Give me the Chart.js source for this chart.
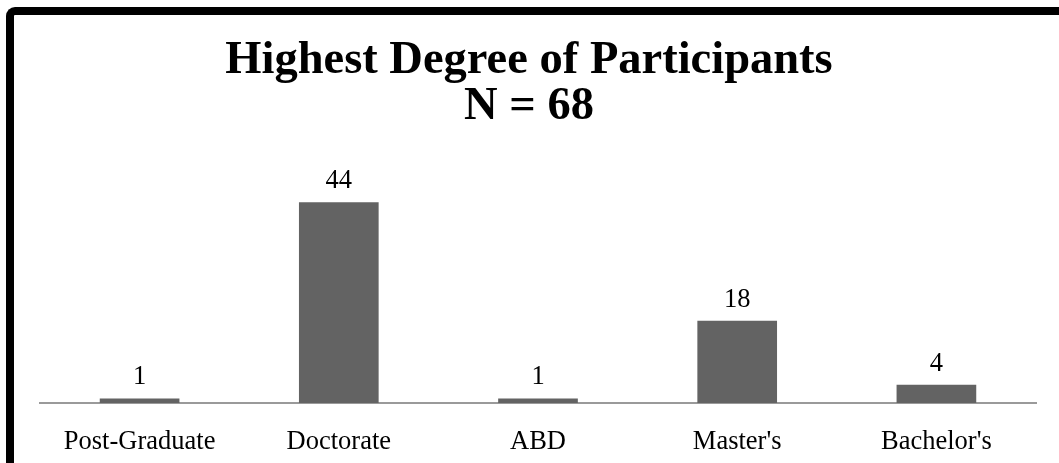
<!DOCTYPE html>
<html>
<head>
<meta charset="utf-8">
<script src="https://cdn.jsdelivr.net/npm/chart.js@4/dist/chart.umd.min.js"></script>
<style>
  html, body { margin: 0; padding: 0; background: #fff; overflow: hidden; }
  #wrap { position: relative; width: 1059px; height: 463px; }
  #frame {
    position: absolute; left: 6px; top: 7px; width: 1100px; height: 500px;
    border-left: 8px solid #000; border-top: 8px solid #000;
    border-top-left-radius: 9px;
  }
  canvas { position: absolute; left: 0; top: 0; }
</style>
</head>
<body>
<div id="wrap">
  <div id="frame"></div>
  <canvas id="chart" width="1059" height="463"></canvas>
</div>
<script>
const titleLines = ['Highest Degree of Participants', 'N = 68'];
const categories = ['Post-Graduate', 'Doctorate', 'ABD', "Master's", "Bachelor's"];
const counts = [1, 44, 1, 18, 4];

const serif = '"Liberation Serif", "Times New Roman", serif';

// title drawn by hand so it can sit on the page centre
const pageTitle = {
  id: 'pageTitle',
  afterDraw(chart) {
    const ctx = chart.ctx;
    ctx.save();
    ctx.font = 'bold 46.5px ' + serif;
    ctx.fillStyle = '#000';
    ctx.textAlign = 'center';
    ctx.textBaseline = 'middle';
    titleLines.forEach((line, i) => ctx.fillText(line, 529, 61 + i * 46));
    ctx.restore();
  }
};

// value labels above each bar, placed from the bar elements
const valueLabels = {
  id: 'valueLabels',
  afterDatasetsDraw(chart) {
    const ctx = chart.ctx;
    const meta = chart.getDatasetMeta(0);
    ctx.save();
    ctx.font = '26.5px ' + serif;
    ctx.fillStyle = '#000';
    ctx.textAlign = 'center';
    ctx.textBaseline = 'middle';
    meta.data.forEach((bar, i) => {
      ctx.fillText(String(counts[i]), bar.x, bar.y - 21);
    });
    ctx.restore();
  }
};

new Chart(document.getElementById('chart').getContext('2d'), {
  type: 'bar',
  data: {
    labels: categories,
    datasets: [{
      data: counts,
      backgroundColor: '#636363',
      borderWidth: 0,
      barPercentage: 0.8,
      categoryPercentage: 0.5
    }]
  },
  options: {
    responsive: false,
    animation: false,
    layout: { padding: { left: 40, right: 23, top: 152, bottom: 0 } },
    plugins: {
      legend: { display: false },
      tooltip: { enabled: false },
      title: { display: false }
    },
    scales: {
      x: {
        grid: { display: false, drawTicks: false },
        border: { display: true, color: '#9a9a9a', width: 2 },
        ticks: {
          color: '#000',
          padding: 23,
          font: { family: serif, size: 26.5 }
        },
        afterFit(scale) { scale.height = 60; }
      },
      y: {
        display: false,
        min: 0,
        max: 55
      }
    }
  },
  plugins: [valueLabels, pageTitle]
});
</script>
</body>
</html>
